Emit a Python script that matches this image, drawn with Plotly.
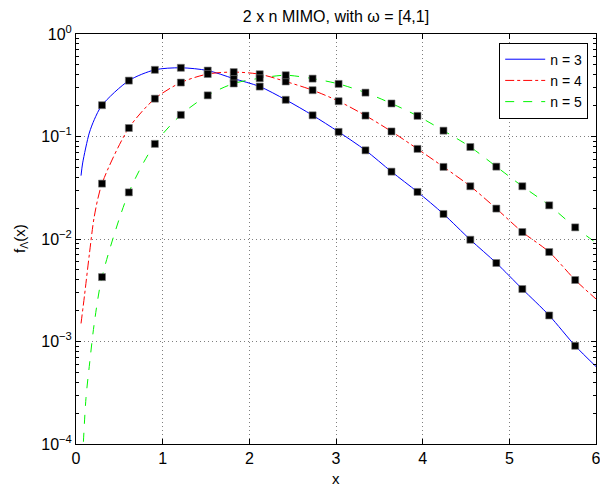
import plotly.graph_objects as go

# ---------------- data ----------------
marker_x = [0.30, 0.61, 0.91, 1.21, 1.52, 1.82, 2.12, 2.42, 2.73, 3.03,
            3.34, 3.64, 3.94, 4.24, 4.55, 4.85, 5.15, 5.46, 5.76]

n3_markers = [0.202, 0.351, 0.447, 0.468, 0.440, 0.367, 0.307, 0.228, 0.161, 0.111,
              0.0733, 0.0454, 0.0288, 0.01755, 0.00984, 0.00583, 0.00325, 0.001795, 0.000908]
n4_markers = [0.0347, 0.121, 0.234, 0.336, 0.407, 0.425, 0.405, 0.344, 0.283, 0.221,
              0.160, 0.112, 0.0757, 0.0505, 0.0327, 0.0198, 0.0117, 0.00746, 0.00398]
n5_markers = [0.00425, 0.0285, 0.0847, 0.1625, 0.252, 0.329, 0.370, 0.396, 0.367, 0.326,
              0.268, 0.210, 0.159, 0.114, 0.079, 0.0508, 0.0327, 0.0213, 0.01298]

# extra curve samples (start and end of each analytic curve)
n3_head_x = [0.058, 0.077, 0.153, 0.211]
n3_head_y = [0.0415, 0.0552, 0.108, 0.146]
n3_tail_x = [6.0]
n3_tail_y = [0.00057]

n4_head_x = [0.058, 0.10, 0.155, 0.211]
n4_head_y = [0.0015, 0.0029, 0.0072, 0.0166]
n4_tail_x = [6.0]
n4_tail_y = [0.0026]

n5_head_x = [0.075, 0.115, 0.153, 0.211]
n5_head_y = [0.00007, 0.00028, 0.00057, 0.00151]
n5_tail_x = [6.0]
n5_tail_y = [0.0092]

y_tick_vals = [1e-4, 1e-3, 1e-2, 1e-1, 1e0]
y_tick_text = ["10<sup>−4</sup>", "10<sup>−3</sup>", "10<sup>−2</sup>", "10<sup>−1</sup>", "10<sup>0</sup>"]
x_tick_vals = [0, 1, 2, 3, 4, 5, 6]

FONT = "Liberation Sans, Arial, sans-serif"

series = [
    ("n = 3", "rgb(0,0,255)", "solid", n3_head_x, n3_head_y, n3_markers, n3_tail_x, n3_tail_y),
    ("n = 4", "rgb(255,0,0)", "dashdot", n4_head_x, n4_head_y, n4_markers, n4_tail_x, n4_tail_y),
    ("n = 5", "rgb(0,245,0)", "dash", n5_head_x, n5_head_y, n5_markers, n5_tail_x, n5_tail_y),
]

fig = go.Figure()
for name, color, dash, hx, hy, my, tx, ty in series:
    fig.add_trace(go.Scatter(
        x=hx + marker_x + tx, y=hy + my + ty, mode="lines", name=name,
        line=dict(color=color, width=1, dash=dash, shape="spline", smoothing=0.8),
    ))
for name, color, dash, hx, hy, my, tx, ty in series:
    fig.add_trace(go.Scatter(
        x=marker_x, y=my, mode="markers", showlegend=False,
        marker=dict(symbol="square", size=7, color="black",
                    line=dict(color="#777777", width=0.6)),
    ))

minor_vals = [k * 10 ** e for e in range(-4, 0) for k in range(2, 10)]

GRID = "rgba(0,0,0,0.5)"

fig.update_layout(
    width=600, height=487,
    margin=dict(l=76, r=4, t=34, b=43),
    paper_bgcolor="white", plot_bgcolor="white",
    font=dict(family=FONT, size=15, color="black"),
    title=dict(text="2 x n MIMO, with ω = [4,1]", x=(76 + 260) / 600, xanchor="center",
               y=1 - 16 / 487, yanchor="middle", yref="container",
               font=dict(family=FONT, size=16, color="black")),
    legend=dict(x=0.985, y=0.979, xanchor="right", yanchor="top",
                bgcolor="white", bordercolor="black", borderwidth=1,
                font=dict(family=FONT, size=14), tracegroupgap=0,
                itemwidth=40),
    showlegend=True,
    annotations=[
        dict(text="x", xref="paper", yref="paper", x=0.5, y=(444 - 478) / 410,
             xanchor="center", yanchor="middle", showarrow=False,
             font=dict(family=FONT, size=15)),
        dict(text="f<sub>Λ</sub>(x)", xref="paper", yref="paper",
             x=(20 - 76) / 520, y=0.5, xanchor="center", yanchor="middle",
             textangle=-90, showarrow=False, font=dict(family=FONT, size=15)),
    ],
)

fig.update_xaxes(
    range=[0, 6], tickvals=x_tick_vals, ticks="inside", ticklen=5,
    tickcolor="black", showline=True, linecolor="black", linewidth=1,
    mirror="allticks", showgrid=True, gridcolor=GRID,
    griddash="1px,3px", gridwidth=1, zeroline=False, automargin=False,
    ticklabeloverflow="allow",
    tickfont=dict(family=FONT, size=16),
)
fig.update_yaxes(
    type="log", range=[-4, 0], tickmode="array", tickvals=y_tick_vals,
    ticktext=y_tick_text, ticks="inside", ticklen=5, tickcolor="black",
    showline=True, linecolor="black", linewidth=1, mirror="allticks",
    showgrid=True, gridcolor=GRID, griddash="1px,3px", gridwidth=1,
    zeroline=False, automargin=False, ticklabeloverflow="allow",
    tickfont=dict(family=FONT, size=16),
    minor=dict(tickmode="array", tickvals=minor_vals, ticks="inside",
               ticklen=3, tickcolor="black", showgrid=False),
)

fig.write_html("out.html", config={"displayModeBar": False},
               post_script="document.body.style.margin='0px';")
